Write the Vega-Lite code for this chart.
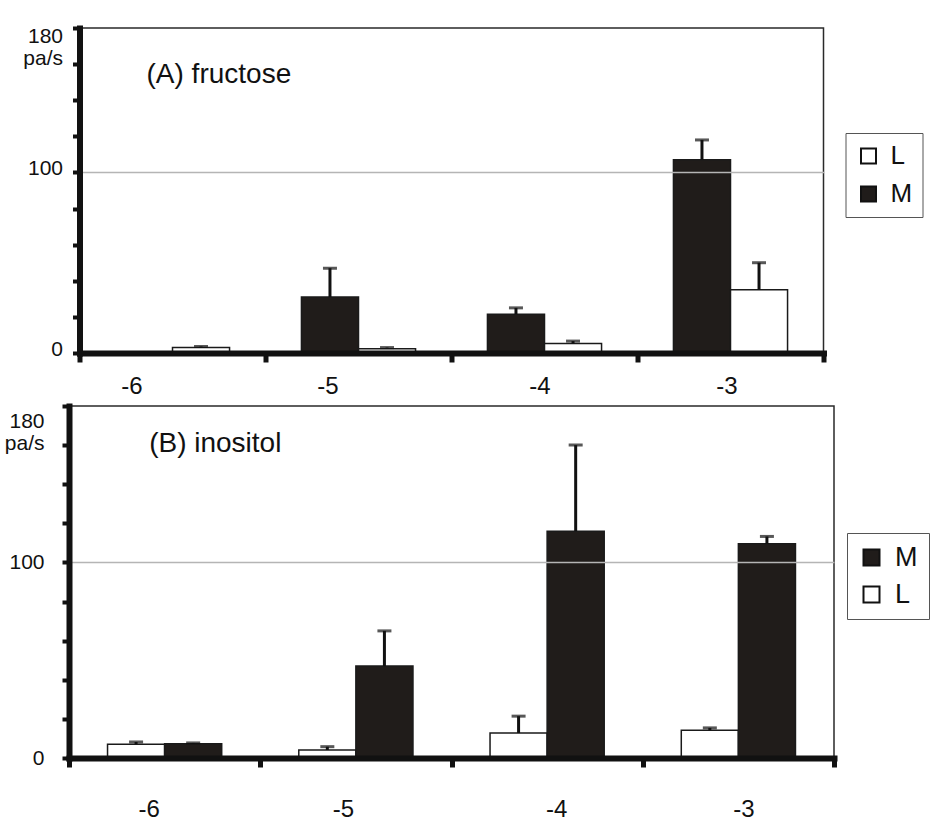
{
  "$schema": "https://vega.github.io/schema/vega-lite/v6.json",
  "background": "white",
  "padding": {"left": 3, "top": 24, "right": 0, "bottom": 0},
  "config": {
    "font": "Liberation Sans",
    "view": {"stroke": "#2a2a2a", "strokeWidth": 1.5},
    "axis": {"labelColor": "#111", "labelFont": "Liberation Sans"},
    "legend": {"labelFont": "Liberation Sans", "labelColor": "#111"}
  },
  "datasets": {
    "fructose": [
      {"conc": "-6", "group": "M", "value": 0, "upper": 0},
      {"conc": "-6", "group": "L", "value": 3, "upper": 3.6},
      {"conc": "-5", "group": "M", "value": 31, "upper": 47},
      {"conc": "-5", "group": "L", "value": 2.4, "upper": 3},
      {"conc": "-4", "group": "M", "value": 21.5, "upper": 25},
      {"conc": "-4", "group": "L", "value": 5.3, "upper": 6.6},
      {"conc": "-3", "group": "M", "value": 107, "upper": 118},
      {"conc": "-3", "group": "L", "value": 35, "upper": 50}
    ],
    "inositol": [
      {"conc": "-6", "group": "L", "value": 7, "upper": 8.2},
      {"conc": "-6", "group": "M", "value": 7.3, "upper": 7.7},
      {"conc": "-5", "group": "L", "value": 4.1, "upper": 5.8},
      {"conc": "-5", "group": "M", "value": 47, "upper": 65},
      {"conc": "-4", "group": "L", "value": 12.8, "upper": 21.4},
      {"conc": "-4", "group": "M", "value": 116, "upper": 160},
      {"conc": "-3", "group": "L", "value": 14.2, "upper": 15.4},
      {"conc": "-3", "group": "M", "value": 109.6, "upper": 113.3}
    ]
  },
  "bounds": "flush",
  "center": true,
  "spacing": 53,
  "resolve": {"scale": {"x": "independent", "y": "independent", "color": "independent", "xOffset": "independent"}},
  "vconcat": [
    {
      "width": 744,
      "height": 325,
      "data": {"name": "fructose"},
      "encoding": {
        "x": {
          "field": "conc", "type": "nominal",
          "scale": {"domain": ["-6", "-5", "-4", "-3"], "paddingInner": 0, "paddingOuter": 0},
          "axis": {
            "title": null, "labelFontSize": 24, "labelPadding": 12, "labelAngle": 0,
            "domainColor": "#111", "domainWidth": 6, "domainCap": "square",
            "tickBand": "extent", "tickSize": 9, "tickWidth": 5, "tickColor": "#111",
            "zindex": 1,
            "labelOffset": {"condition": [{"test": "datum.value == '-6'", "value": -41}, {"test": "datum.value == '-5'", "value": -31}, {"test": "datum.value == '-4'", "value": -5}], "value": -4}
          }
        },
        "xOffset": {"field": "group", "type": "nominal", "scale": {"domain": ["M", "L"], "paddingOuter": 0.63, "paddingInner": 0}}
      },
      "layer": [
        {
          "mark": {"type": "bar", "stroke": "#1a1a1a", "strokeWidth": 1.5},
          "encoding": {
            "y": {
              "field": "value", "type": "quantitative",
              "scale": {"domain": [0, 180], "nice": false},
              "axis": {
                "title": null,
                "values": [0, 20, 40, 60, 80, 100, 120, 140, 160, 180],
                "tickCount": 12,
                "labelExpr": "datum.value == 180 ? ['180', 'pa/s'] : (datum.value == 0 || datum.value == 100) ? datum.label : ''",
                "labelFontSize": 21, "labelPadding": 10, "labelLineHeight": 22, "labelOverlap": false,
                "labelOffset": {"condition": {"test": "datum.value == 180", "value": 8}, "value": -4},
                "domainColor": "#111", "domainWidth": 6, "domainCap": "square",
                "tickColor": "#111", "tickWidth": 4, "tickSize": 7,
                "grid": true, "gridColor": "#b5b5b5", "gridWidth": 1.5,
                "gridOpacity": {"condition": {"test": "datum.value == 100", "value": 1}, "value": 0},
                "zindex": 1
              }
            },
            "color": {
              "field": "group", "type": "nominal",
              "scale": {"domain": ["L", "M"], "range": ["#ffffff", "#201c1a"]},
              "legend": {
                "title": null, "orient": "none", "legendX": 766, "legendY": 105, "direction": "vertical",
                "strokeColor": "#555", "fillColor": "#ffffff", "padding": 10,
                "symbolType": "square", "symbolSize": 225, "symbolStrokeColor": "#111", "symbolStrokeWidth": 2,
                "labelFontSize": 26, "labelOffset": 9, "rowPadding": 12
              }
            }
          }
        },
        {
          "transform": [{"filter": "datum.upper > datum.value"}],
          "mark": {"type": "rule", "strokeWidth": 3, "color": "#111"},
          "encoding": {
            "y": {"field": "value", "type": "quantitative", "title": null},
            "y2": {"field": "upper"}
          }
        },
        {
          "transform": [{"filter": "datum.upper > datum.value"}],
          "mark": {"type": "tick", "thickness": 3, "size": 14, "color": "#111"},
          "encoding": {
            "y": {"field": "upper", "type": "quantitative", "title": null}
          }
        },
        {
          "data": {"values": [{"t": "(A) fructose"}]},
          "mark": {"type": "text", "align": "left", "baseline": "middle", "fontSize": 28, "dx": -26, "color": "#111"},
          "encoding": {
            "x": {"datum": "-6"},
            "xOffset": null,
            "y": {"datum": 154},
            "text": {"field": "t"}
          }
        }
      ]
    },
    {
      "width": 765,
      "height": 352,
      "data": {"name": "inositol"},
      "encoding": {
        "x": {
          "field": "conc", "type": "nominal",
          "scale": {"domain": ["-6", "-5", "-4", "-3"], "paddingInner": 0, "paddingOuter": 0},
          "axis": {
            "title": null, "labelFontSize": 24, "labelPadding": 30, "labelAngle": 0,
            "domainColor": "#111", "domainWidth": 6, "domainCap": "square",
            "tickBand": "extent", "tickSize": 9, "tickWidth": 5, "tickColor": "#111",
            "zindex": 1,
            "labelOffset": {"condition": [{"test": "datum.value == '-6'", "value": -16}, {"test": "datum.value == '-5'", "value": -13}, {"test": "datum.value == '-4'", "value": 9}], "value": 5}
          }
        },
        "xOffset": {"field": "group", "type": "nominal", "scale": {"domain": ["L", "M"], "paddingOuter": 0.675, "paddingInner": 0}}
      },
      "layer": [
        {
          "mark": {"type": "bar", "stroke": "#1a1a1a", "strokeWidth": 1.5},
          "encoding": {
            "y": {
              "field": "value", "type": "quantitative",
              "scale": {"domain": [0, 180], "nice": false},
              "axis": {
                "title": null,
                "values": [0, 20, 40, 60, 80, 100, 120, 140, 160, 180],
                "tickCount": 12,
                "labelExpr": "datum.value == 180 ? ['180', 'pa/s'] : (datum.value == 0 || datum.value == 100) ? datum.label : ''",
                "labelFontSize": 21, "labelPadding": 18, "labelLineHeight": 22, "labelOverlap": false,
                "labelOffset": {"condition": {"test": "datum.value == 180", "value": 15}, "value": 0},
                "domainColor": "#111", "domainWidth": 6, "domainCap": "square",
                "tickColor": "#111", "tickWidth": 4, "tickSize": 7,
                "grid": true, "gridColor": "#b5b5b5", "gridWidth": 1.5,
                "gridOpacity": {"condition": {"test": "datum.value == 100", "value": 1}, "value": 0},
                "zindex": 1
              }
            },
            "color": {
              "field": "group", "type": "nominal",
              "scale": {"domain": ["M", "L"], "range": ["#201c1a", "#ffffff"]},
              "legend": {
                "title": null, "orient": "none", "legendX": 778, "legendY": 127, "direction": "vertical",
                "strokeColor": "#555", "fillColor": "#ffffff", "padding": 11,
                "symbolType": "square", "symbolSize": 256, "symbolStrokeColor": "#111", "symbolStrokeWidth": 2,
                "labelFontSize": 27, "labelOffset": 10, "rowPadding": 9
              }
            }
          }
        },
        {
          "transform": [{"filter": "datum.upper > datum.value"}],
          "mark": {"type": "rule", "strokeWidth": 3, "color": "#111"},
          "encoding": {
            "y": {"field": "value", "type": "quantitative", "title": null},
            "y2": {"field": "upper"}
          }
        },
        {
          "transform": [{"filter": "datum.upper > datum.value"}],
          "mark": {"type": "tick", "thickness": 3, "size": 14, "color": "#111"},
          "encoding": {
            "y": {"field": "upper", "type": "quantitative", "title": null}
          }
        },
        {
          "data": {"values": [{"t": "(B) inositol"}]},
          "mark": {"type": "text", "align": "left", "baseline": "middle", "fontSize": 28, "dx": -15.5, "color": "#111"},
          "encoding": {
            "x": {"datum": "-6"},
            "xOffset": null,
            "y": {"datum": 160.6},
            "text": {"field": "t"}
          }
        }
      ]
    }
  ]
}
